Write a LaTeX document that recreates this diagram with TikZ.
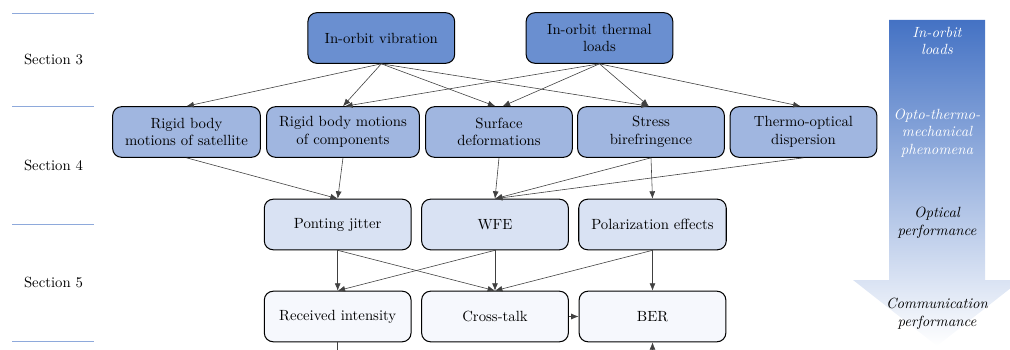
\documentclass[tikz,border=0pt]{standalone}
\usetikzlibrary{arrows.meta}
\definecolor{cA}{HTML}{6A8FD0}
\definecolor{cB}{HTML}{A0B6E0}
\definecolor{cC}{HTML}{D9E2F3}
\definecolor{cD}{HTML}{F6F8FD}
\definecolor{secline}{HTML}{8EA9DB}
\definecolor{arrtop}{HTML}{4472C4}
\begin{document}
\begin{tikzpicture}[x=0.678pt,y=-0.678pt,
  box/.style={draw=black, line width=0.7pt, rounded corners=6pt,
    minimum width=99.5pt, minimum height=34.3pt, align=center,
    inner xsep=8.5pt, inner ysep=3pt},
  lvA/.style={box, fill=cA},
  lvB/.style={box, fill=cB},
  lvC/.style={box, fill=cC},
  lvD/.style={box, fill=cD},
  conn/.style={draw=black!75, line width=0.4pt, -{Latex[length=5pt,width=4pt]}},
  plainconn/.style={draw=black!75, line width=0.4pt},
  secrule/.style={draw=secline, line width=0.6pt},
  seclabel/.style={inner sep=0pt},
  arrtxt/.style={align=center, font=\itshape, inner sep=0pt}]
\clip (0,0) rectangle (1010,350);
% gradient arrow
\shade[top color=arrtop, bottom color=white]
  (889,20) -- (985,20) -- (985,280) -- (1021,280) -- (937,346) -- (853,280) -- (889,280) -- cycle;
\node[arrtxt, text=white] (t1) at (937,41) {In-orbit\\loads};
\node[arrtxt, text=white] (t2) at (937,133) {Opto-thermo-\\mechanical\\phenomena};
\node[arrtxt] (t3) at (937,223) {Optical\\performance};
\node[arrtxt] (t4) at (937,314) {Communication\\performance};
% section rules and labels
\draw[secrule] (12,13) -- (94,13);
\draw[secrule] (12,106) -- (94,106);
\draw[secrule] (12,224) -- (94,224);
\draw[secrule] (12,341) -- (94,341);
\node[seclabel] (s3) at (53.5,59) {Section 3};
\node[seclabel] (s4) at (53.5,165) {Section 4};
\node[seclabel] (s5) at (53.5,282) {Section 5};
% nodes
\node[lvA] (vib) at (381.3,38) {In-orbit vibration};
\node[lvA] (therm) at (599.5,38) {In-orbit thermal\\loads};
\node[lvB] (rbs) at (186.5,132) {Rigid body\\motions of satellite};
\node[lvB] (rbc) at (343,132) {Rigid body motions\\of components};
\node[lvB] (surf) at (499,132) {Surface\\deformations};
\node[lvB] (stress) at (651,132) {Stress\\birefringence};
\node[lvB] (thermo) at (803.5,132) {Thermo-optical\\dispersion};
\node[lvC] (pj) at (337.7,224.5) {Ponting jitter};
\node[lvC] (wfe) at (495,224.5) {WFE};
\node[lvC] (pol) at (652.5,224.5) {Polarization effects};
\node[lvD] (ri) at (337.7,316.5) {Received intensity};
\node[lvD] (ct) at (495,316.5) {Cross-talk};
\node[lvD] (ber) at (652.5,316.5) {BER};
% connectors top
\draw[conn] (vib.south) -- (rbs.north);
\draw[conn] (vib.south) -- (rbc.north);
\draw[conn] (vib.south) -- ([xshift=-2.5pt]surf.north);
\draw[conn] (vib.south) -- ([xshift=-1.5pt]stress.north);
\draw[conn] (therm.south) -- ([xshift=1.5pt]rbc.north);
\draw[conn] (therm.south) -- ([xshift=2.5pt]surf.north);
\draw[conn] (therm.south) -- ([xshift=-1.5pt]stress.north);
\draw[conn] (therm.south) -- ([xshift=-2pt]thermo.north);
% connectors middle
\draw[conn] (rbs.south) -- (pj.north);
\draw[conn] (rbc.south) -- (pj.north);
\draw[conn] (surf.south) -- (wfe.north);
\draw[conn] (stress.south) -- (wfe.north);
\draw[conn] (thermo.south) -- (wfe.north);
\draw[conn] (stress.south) -- (pol.north);
% connectors bottom
\draw[conn] (pj.south) -- (ri.north);
\draw[conn] (pj.south) -- (ct.north);
\draw[conn] (wfe.south) -- (ri.north);
\draw[conn] (wfe.south) -- (ct.north);
\draw[conn] (pol.south) -- (ct.north);
\draw[conn] (pol.south) -- (ber.north);
\draw[conn] (ct.east) -- (ber.west);
\coordinate (below) at (500,385);
\draw[conn] (ri.south) |- (below) -| (ber.south);
\end{tikzpicture}
\end{document}
